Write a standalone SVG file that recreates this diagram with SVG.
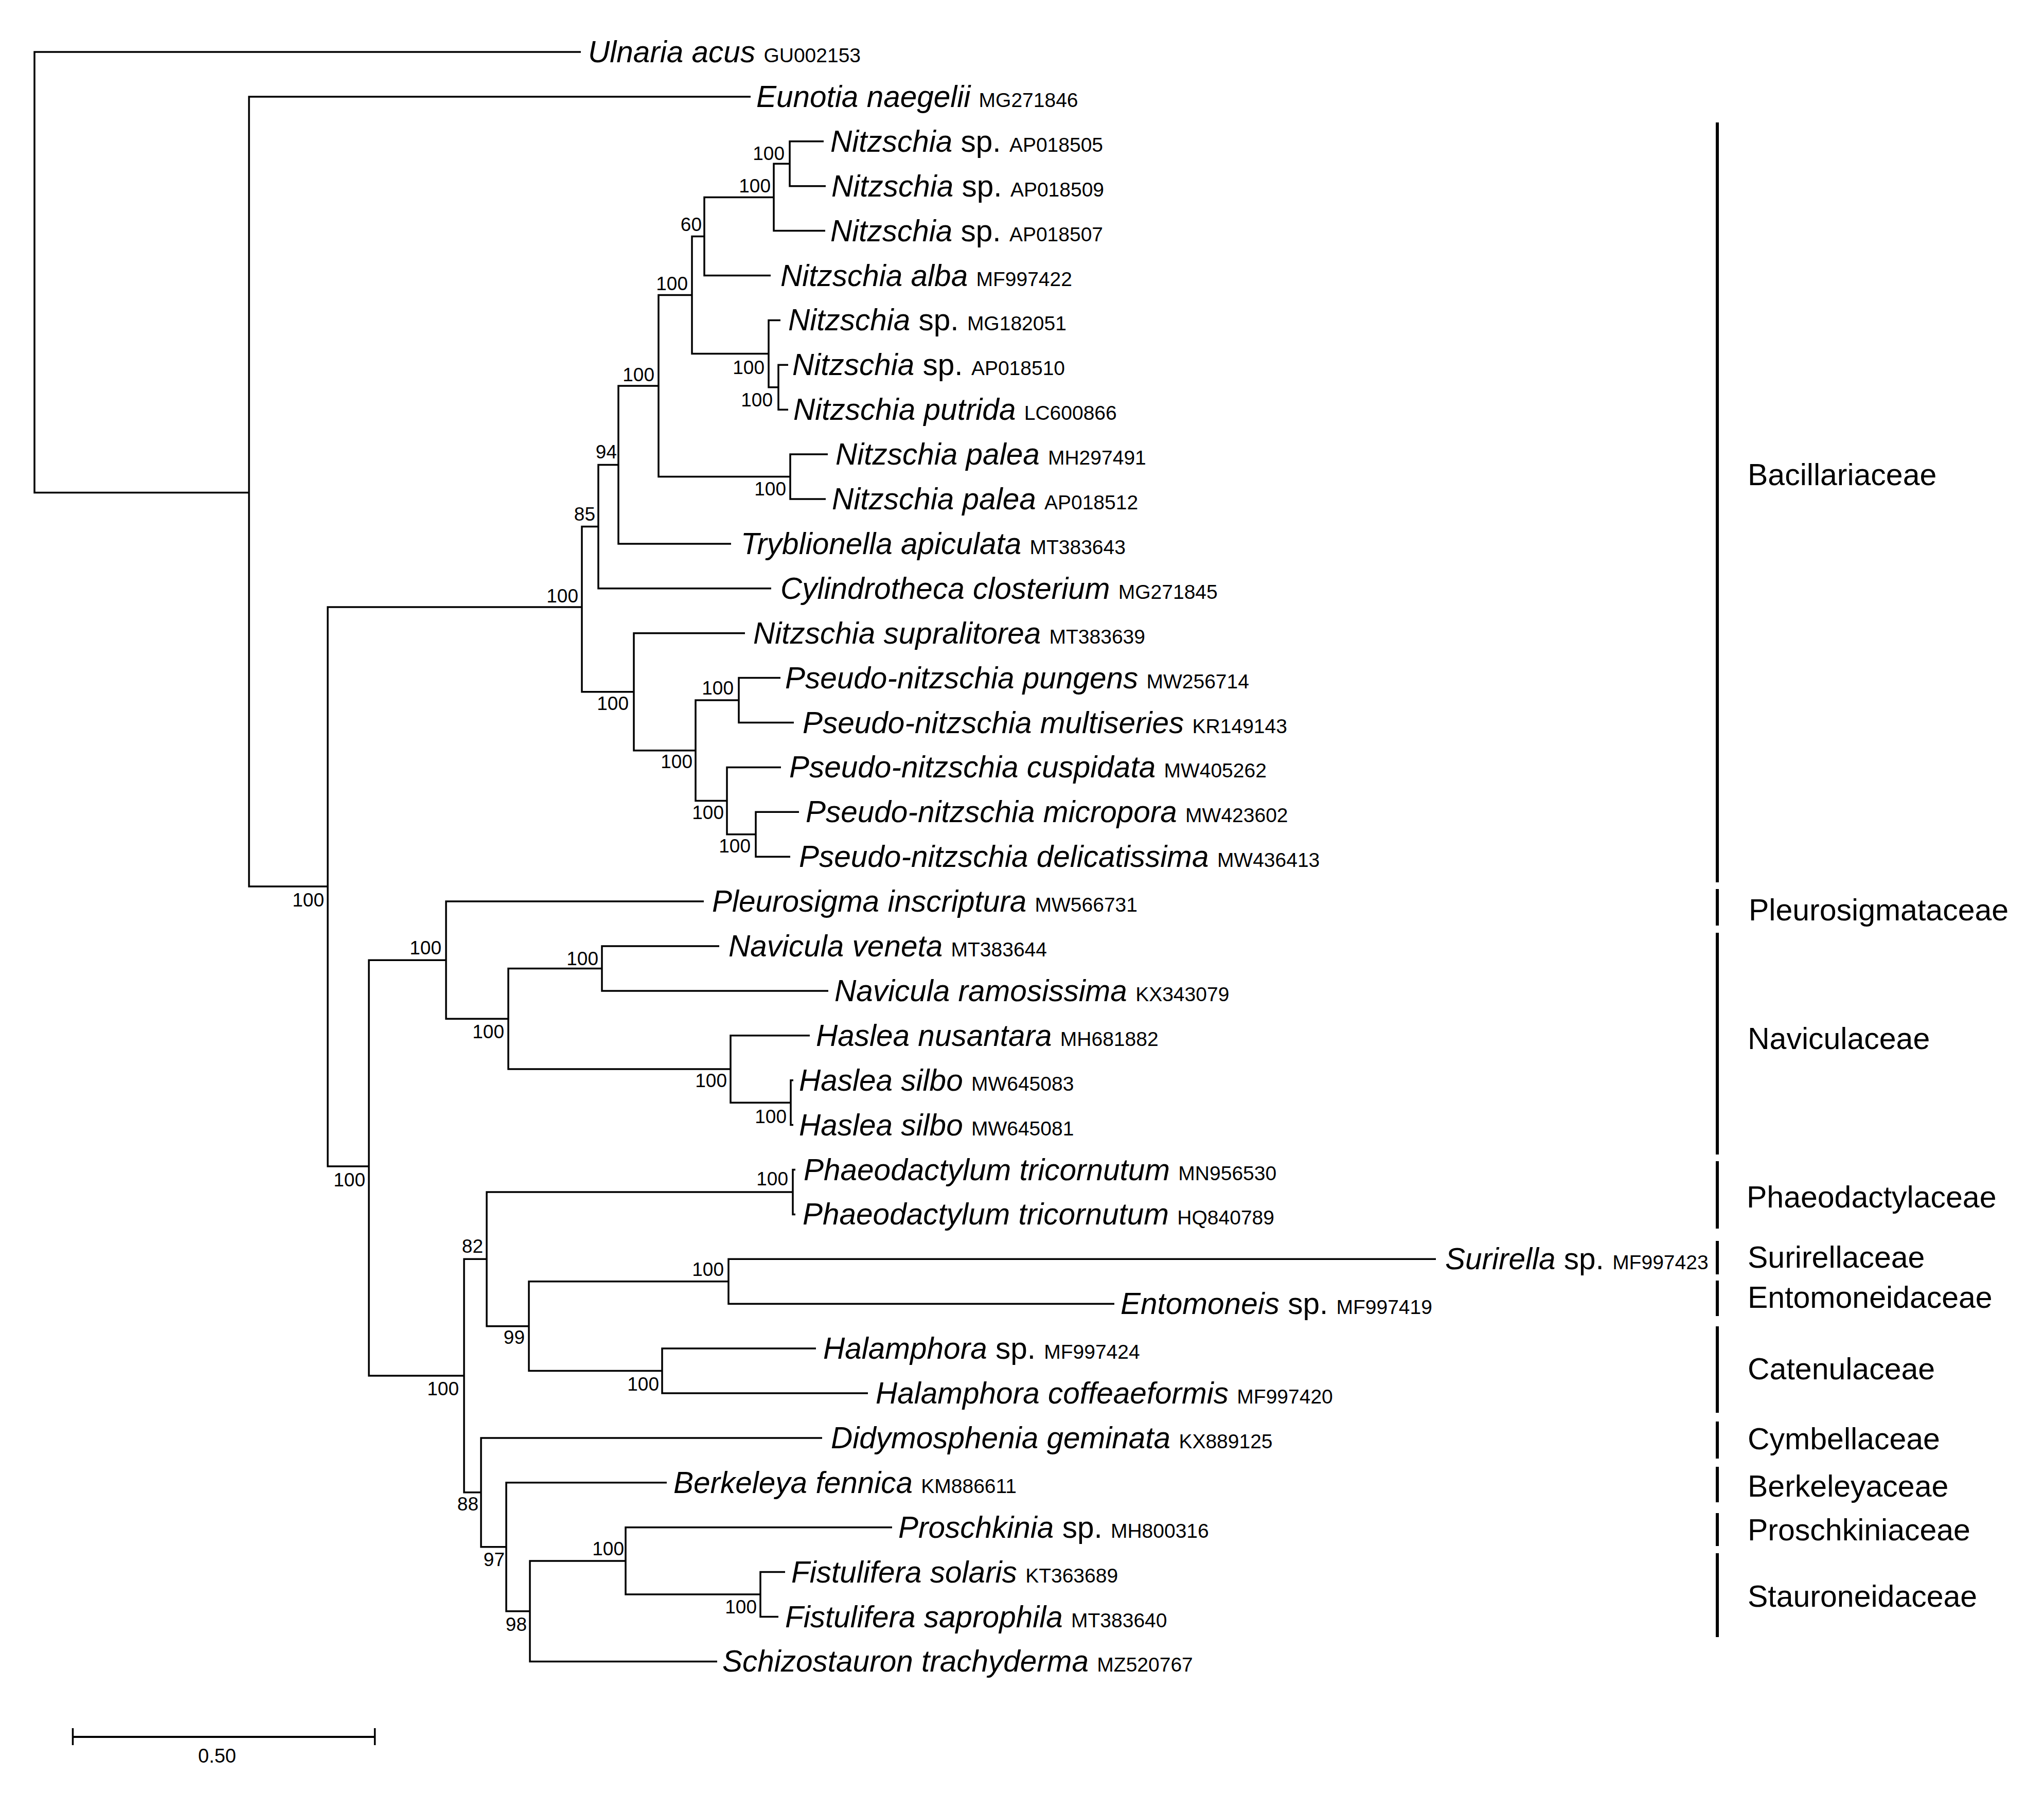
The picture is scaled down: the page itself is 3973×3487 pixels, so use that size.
<svg xmlns="http://www.w3.org/2000/svg" width="3973" height="3487" viewBox="0 0 3973 3487">
<style>
text{font-family:"Liberation Sans",Arial,sans-serif;fill:#000}
.sp{font-size:58.5px}
.it{font-style:italic}
.acc{font-size:39px}
.bs{font-size:37px;text-anchor:end}
.fam{font-size:59px}
.br{fill:none;stroke:#000;stroke-width:3.5;stroke-linejoin:miter}
.bar{stroke:#000;stroke-width:6}
</style>
<rect width="3973" height="3487" fill="#fff"/>
<g id="connectors" class="br">
<path d="M1129 101 H67 V957.5 H484"/>
<path d="M1459 187.9 H484 V1723 H637"/>
<path d="M1131 1180 H637 V2267 H717"/>
<path d="M1163 1023.6 H1131 V1344.75 H1232"/>
<path d="M1202 903.45 H1163 V1143.8 H1499"/>
<path d="M1280 750 H1202 V1056.9 H1421"/>
<path d="M1345 573.5 H1280 V926.55 H1536"/>
<path d="M1609 883.1 H1536 V970 H1605"/>
<path d="M1369 459.45 H1345 V687.6 H1494"/>
<path d="M1504 383.4 H1369 V535.5 H1498"/>
<path d="M1535 318.25 H1504 V448.6 H1604"/>
<path d="M1601 274.8 H1535 V361.7 H1605"/>
<path d="M1517 622.4 H1494 V752.75 H1513"/>
<path d="M1532 709.3 H1513 V796.2 H1532"/>
<path d="M1448 1230.7 H1232 V1458.8 H1352"/>
<path d="M1436 1361.05 H1352 V1556.6 H1413"/>
<path d="M1517 1317.6 H1436 V1404.5 H1543"/>
<path d="M1518 1491.4 H1413 V1621.75 H1469"/>
<path d="M1553 1578.3 H1469 V1665.2 H1536"/>
<path d="M867 1866.15 H717 V2674.05 H902"/>
<path d="M1368 1752.1 H867 V1980.2 H988"/>
<path d="M1170 1882.45 H988 V2078 H1420"/>
<path d="M1398 1839 H1170 V1925.9 H1610"/>
<path d="M1574 2012.8 H1420 V2143.15 H1537"/>
<path d="M1542 2099.7 H1537 V2186.6 H1542"/>
<path d="M946 2447.3 H902 V2900.8 H935"/>
<path d="M1541 2316.95 H946 V2577.65 H1028"/>
<path d="M1546 2273.5 H1541 V2360.4 H1546"/>
<path d="M1416 2490.75 H1028 V2664.55 H1287"/>
<path d="M2791 2447.3 H1416 V2534.2 H2166"/>
<path d="M1586 2621.1 H1287 V2708 H1687"/>
<path d="M1598 2794.9 H935 V3006.7 H984"/>
<path d="M1296 2881.8 H984 V3131.65 H1030"/>
<path d="M1216 3033.9 H1030 V3229.4 H1394"/>
<path d="M1734 2968.7 H1216 V3099.05 H1478"/>
<path d="M1526 3055.6 H1478 V3142.5 H1513"/>
</g>
<g id="leaf-ulnaria-acus"><text class="sp" x="1143" y="121"><tspan class="it">Ulnaria acus</tspan> <tspan class="acc">GU002153</tspan></text></g>
<g id="leaf-eunotia-naegelii"><text class="sp" x="1470" y="208"><tspan class="it">Eunotia naegelii</tspan> <tspan class="acc">MG271846</tspan></text></g>
<g id="leaf-nitzschia-AP018505"><text class="sp" x="1614" y="295"><tspan class="it">Nitzschia</tspan> sp. <tspan class="acc">AP018505</tspan></text></g>
<g id="leaf-nitzschia-AP018509"><text class="sp" x="1616" y="382"><tspan class="it">Nitzschia</tspan> sp. <tspan class="acc">AP018509</tspan></text></g>
<g id="leaf-nitzschia-AP018507"><text class="sp" x="1614" y="469"><tspan class="it">Nitzschia</tspan> sp. <tspan class="acc">AP018507</tspan></text></g>
<g id="leaf-nitzschia-alba"><text class="sp" x="1517" y="556"><tspan class="it">Nitzschia alba</tspan> <tspan class="acc">MF997422</tspan></text></g>
<g id="leaf-nitzschia-MG182051"><text class="sp" x="1532" y="642"><tspan class="it">Nitzschia</tspan> sp. <tspan class="acc">MG182051</tspan></text></g>
<g id="leaf-nitzschia-AP018510"><text class="sp" x="1540" y="729"><tspan class="it">Nitzschia</tspan> sp. <tspan class="acc">AP018510</tspan></text></g>
<g id="leaf-nitzschia-putrida"><text class="sp" x="1542" y="816"><tspan class="it">Nitzschia putrida</tspan> <tspan class="acc">LC600866</tspan></text></g>
<g id="leaf-nitzschia-palea-MH297491"><text class="sp" x="1624" y="903"><tspan class="it">Nitzschia palea</tspan> <tspan class="acc">MH297491</tspan></text></g>
<g id="leaf-nitzschia-palea-AP018512"><text class="sp" x="1617" y="990"><tspan class="it">Nitzschia palea</tspan> <tspan class="acc">AP018512</tspan></text></g>
<g id="leaf-tryblionella-apiculata"><text class="sp" x="1440" y="1077"><tspan class="it">Tryblionella apiculata</tspan> <tspan class="acc">MT383643</tspan></text></g>
<g id="leaf-cylindrotheca-closterium"><text class="sp" x="1517" y="1164"><tspan class="it">Cylindrotheca closterium</tspan> <tspan class="acc">MG271845</tspan></text></g>
<g id="leaf-nitzschia-supralitorea"><text class="sp" x="1464" y="1251"><tspan class="it">Nitzschia supralitorea</tspan> <tspan class="acc">MT383639</tspan></text></g>
<g id="leaf-pn-pungens"><text class="sp" x="1526" y="1338"><tspan class="it">Pseudo-nitzschia pungens</tspan> <tspan class="acc">MW256714</tspan></text></g>
<g id="leaf-pn-multiseries"><text class="sp" x="1560" y="1425"><tspan class="it">Pseudo-nitzschia multiseries</tspan> <tspan class="acc">KR149143</tspan></text></g>
<g id="leaf-pn-cuspidata"><text class="sp" x="1534" y="1511"><tspan class="it">Pseudo-nitzschia cuspidata</tspan> <tspan class="acc">MW405262</tspan></text></g>
<g id="leaf-pn-micropora"><text class="sp" x="1566" y="1598"><tspan class="it">Pseudo-nitzschia micropora</tspan> <tspan class="acc">MW423602</tspan></text></g>
<g id="leaf-pn-delicatissima"><text class="sp" x="1553" y="1685"><tspan class="it">Pseudo-nitzschia delicatissima</tspan> <tspan class="acc">MW436413</tspan></text></g>
<g id="leaf-pleurosigma-inscriptura"><text class="sp" x="1384" y="1772"><tspan class="it">Pleurosigma inscriptura</tspan> <tspan class="acc">MW566731</tspan></text></g>
<g id="leaf-navicula-veneta"><text class="sp" x="1416" y="1859"><tspan class="it">Navicula veneta</tspan> <tspan class="acc">MT383644</tspan></text></g>
<g id="leaf-navicula-ramosissima"><text class="sp" x="1622" y="1946"><tspan class="it">Navicula ramosissima</tspan> <tspan class="acc">KX343079</tspan></text></g>
<g id="leaf-haslea-nusantara"><text class="sp" x="1586" y="2033"><tspan class="it">Haslea nusantara</tspan> <tspan class="acc">MH681882</tspan></text></g>
<g id="leaf-haslea-silbo-MW645083"><text class="sp" x="1553" y="2120"><tspan class="it">Haslea silbo</tspan> <tspan class="acc">MW645083</tspan></text></g>
<g id="leaf-haslea-silbo-MW645081"><text class="sp" x="1553" y="2207"><tspan class="it">Haslea silbo</tspan> <tspan class="acc">MW645081</tspan></text></g>
<g id="leaf-phaeodactylum-MN956530"><text class="sp" x="1562" y="2294"><tspan class="it">Phaeodactylum tricornutum</tspan> <tspan class="acc">MN956530</tspan></text></g>
<g id="leaf-phaeodactylum-HQ840789"><text class="sp" x="1560" y="2380"><tspan class="it">Phaeodactylum tricornutum</tspan> <tspan class="acc">HQ840789</tspan></text></g>
<g id="leaf-surirella"><text class="sp" x="2809" y="2467"><tspan class="it">Surirella</tspan> sp. <tspan class="acc">MF997423</tspan></text></g>
<g id="leaf-entomoneis"><text class="sp" x="2178" y="2554"><tspan class="it">Entomoneis</tspan> sp. <tspan class="acc">MF997419</tspan></text></g>
<g id="leaf-halamphora-sp"><text class="sp" x="1600" y="2641"><tspan class="it">Halamphora</tspan> sp. <tspan class="acc">MF997424</tspan></text></g>
<g id="leaf-halamphora-coffeaeformis"><text class="sp" x="1702" y="2728"><tspan class="it">Halamphora coffeaeformis</tspan> <tspan class="acc">MF997420</tspan></text></g>
<g id="leaf-didymosphenia-geminata"><text class="sp" x="1615" y="2815"><tspan class="it">Didymosphenia geminata</tspan> <tspan class="acc">KX889125</tspan></text></g>
<g id="leaf-berkeleya-fennica"><text class="sp" x="1309" y="2902"><tspan class="it">Berkeleya fennica</tspan> <tspan class="acc">KM886611</tspan></text></g>
<g id="leaf-proschkinia"><text class="sp" x="1746" y="2989"><tspan class="it">Proschkinia</tspan> sp. <tspan class="acc">MH800316</tspan></text></g>
<g id="leaf-fistulifera-solaris"><text class="sp" x="1538" y="3076"><tspan class="it">Fistulifera solaris</tspan> <tspan class="acc">KT363689</tspan></text></g>
<g id="leaf-fistulifera-saprophila"><text class="sp" x="1526" y="3163"><tspan class="it">Fistulifera saprophila</tspan> <tspan class="acc">MT383640</tspan></text></g>
<g id="leaf-schizostauron-trachyderma"><text class="sp" x="1404" y="3249"><tspan class="it">Schizostauron trachyderma</tspan> <tspan class="acc">MZ520767</tspan></text></g>
<g id="bootstrap">
<text class="bs" x="1525" y="311">100</text>
<text class="bs" x="1498" y="374">100</text>
<text class="bs" x="1364" y="449">60</text>
<text class="bs" x="1337" y="564">100</text>
<text class="bs" x="1486" y="727">100</text>
<text class="bs" x="1502" y="790">100</text>
<text class="bs" x="1272" y="741">100</text>
<text class="bs" x="1199" y="891">94</text>
<text class="bs" x="1528" y="963">100</text>
<text class="bs" x="1157" y="1012">85</text>
<text class="bs" x="1124" y="1171">100</text>
<text class="bs" x="1222" y="1380">100</text>
<text class="bs" x="1426" y="1350">100</text>
<text class="bs" x="1346" y="1493">100</text>
<text class="bs" x="1407" y="1592">100</text>
<text class="bs" x="1459" y="1657">100</text>
<text class="bs" x="630" y="1762">100</text>
<text class="bs" x="858" y="1855">100</text>
<text class="bs" x="1163" y="1876">100</text>
<text class="bs" x="980" y="2018">100</text>
<text class="bs" x="1413" y="2113">100</text>
<text class="bs" x="1529" y="2183">100</text>
<text class="bs" x="710" y="2306">100</text>
<text class="bs" x="1532" y="2304">100</text>
<text class="bs" x="939" y="2435">82</text>
<text class="bs" x="1407" y="2480">100</text>
<text class="bs" x="1020" y="2612">99</text>
<text class="bs" x="1281" y="2703">100</text>
<text class="bs" x="892" y="2712">100</text>
<text class="bs" x="930" y="2936">88</text>
<text class="bs" x="1213" y="3023">100</text>
<text class="bs" x="981" y="3044">97</text>
<text class="bs" x="1471" y="3136">100</text>
<text class="bs" x="1024" y="3170">98</text>
</g>
<g id="fam-bacillariaceae"><line class="bar" x1="3338" y1="238" x2="3338" y2="1715"/><text class="fam" x="3397" y="943">Bacillariaceae</text></g>
<g id="fam-pleurosigmataceae"><line class="bar" x1="3338" y1="1728" x2="3338" y2="1799"/><text class="fam" x="3399" y="1789">Pleurosigmataceae</text></g>
<g id="fam-naviculaceae"><line class="bar" x1="3338" y1="1813" x2="3338" y2="2244"/><text class="fam" x="3397" y="2039">Naviculaceae</text></g>
<g id="fam-phaeodactylaceae"><line class="bar" x1="3338" y1="2257" x2="3338" y2="2388"/><text class="fam" x="3395" y="2347">Phaeodactylaceae</text></g>
<g id="fam-surirellaceae"><line class="bar" x1="3338" y1="2412" x2="3338" y2="2477"/><text class="fam" x="3397" y="2464">Surirellaceae</text></g>
<g id="fam-entomoneidaceae"><line class="bar" x1="3338" y1="2489" x2="3338" y2="2558"/><text class="fam" x="3397" y="2542">Entomoneidaceae</text></g>
<g id="fam-catenulaceae"><line class="bar" x1="3338" y1="2578" x2="3338" y2="2746"/><text class="fam" x="3397" y="2681">Catenulaceae</text></g>
<g id="fam-cymbellaceae"><line class="bar" x1="3338" y1="2763" x2="3338" y2="2835"/><text class="fam" x="3397" y="2817">Cymbellaceae</text></g>
<g id="fam-berkeleyaceae"><line class="bar" x1="3338" y1="2851" x2="3338" y2="2920"/><text class="fam" x="3397" y="2909">Berkeleyaceae</text></g>
<g id="fam-proschkiniaceae"><line class="bar" x1="3338" y1="2941" x2="3338" y2="3005"/><text class="fam" x="3397" y="2994">Proschkiniaceae</text></g>
<g id="fam-stauroneidaceae"><line class="bar" x1="3338" y1="3019" x2="3338" y2="3182"/><text class="fam" x="3397" y="3123">Stauroneidaceae</text></g>
<g id="scale-bar">
<line x1="141.5" y1="3376" x2="728.6" y2="3376" stroke="#000" stroke-width="4"/>
<line x1="141.5" y1="3359" x2="141.5" y2="3392" stroke="#000" stroke-width="3.5"/>
<line x1="728.6" y1="3359" x2="728.6" y2="3392" stroke="#000" stroke-width="3.5"/>
<text x="422" y="3426" font-size="38" text-anchor="middle">0.50</text>
</g>
</svg>
